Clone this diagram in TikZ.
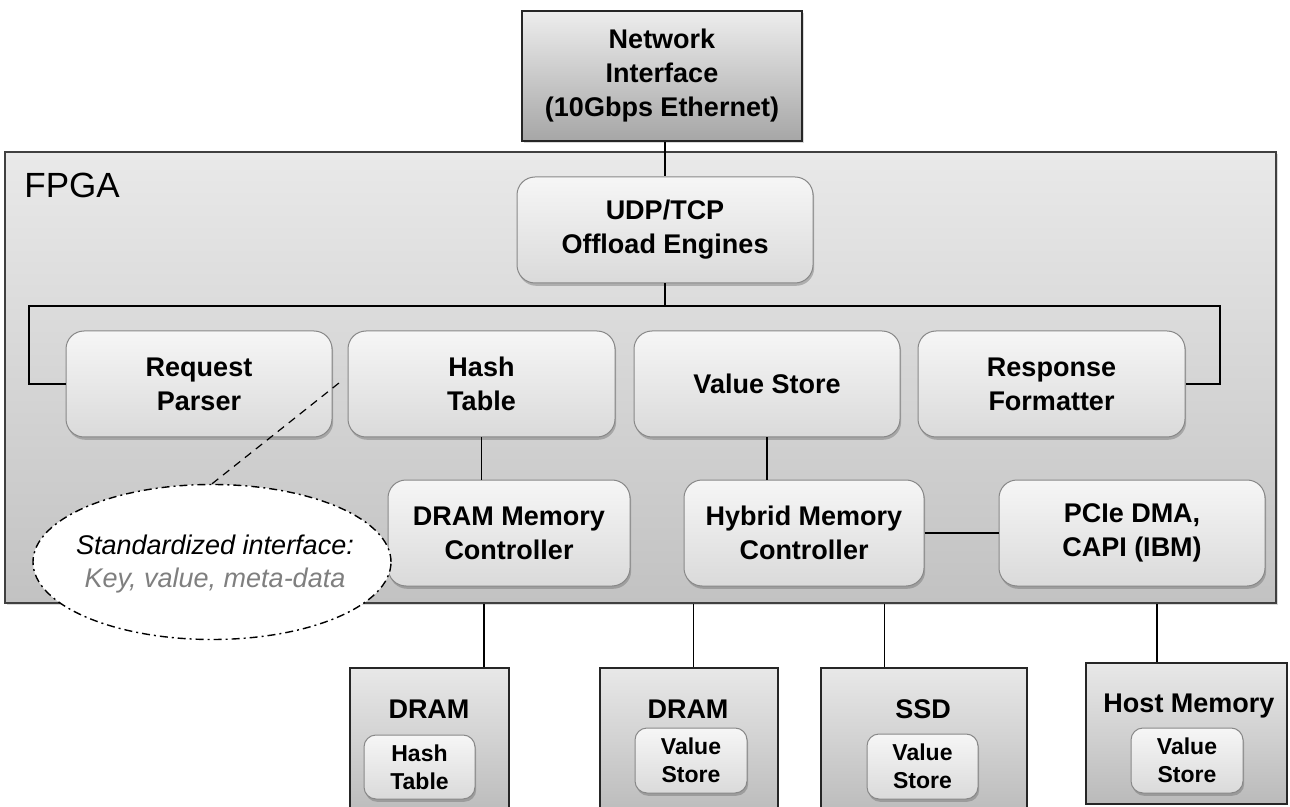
\documentclass[tikz,border=0pt]{standalone}
\usepackage{fontspec}
\setmainfont{Liberation Sans}
\usetikzlibrary{shapes.geometric,shadows}

\definecolor{fpgatop}{HTML}{E9E9E9}
\definecolor{fpgabot}{HTML}{C2C2C2}
\definecolor{nitop}{HTML}{EDEDED}
\definecolor{nibot}{HTML}{A6A6A6}
\definecolor{modtop}{HTML}{F6F6F6}
\definecolor{modbot}{HTML}{DADADA}
\definecolor{memtop}{HTML}{E8E8E8}
\definecolor{membot}{HTML}{BABABA}
\definecolor{modline}{HTML}{888888}
\definecolor{keygray}{HTML}{7F7F7F}

\begin{document}
\begin{tikzpicture}[x=0.5pt,y=-0.5pt,
  sz/.style 2 args={minimum width=#1*0.5pt, minimum height=#2*0.5pt},
  lbl/.style={font=\bfseries\fontsize{13.5}{17}\selectfont, align=center, inner sep=0pt},
  softshadow/.style={drop shadow={shadow xshift=0.6pt, shadow yshift=-1.4pt, opacity=0.4, fill=black!60}},
  module/.style={lbl, draw=modline, line width=0.5pt, rounded corners=9pt,
    top color=modtop, bottom color=modbot, softshadow},
  smallbox/.style={module, rounded corners=6pt,
    font=\bfseries\fontsize{11.5}{14}\selectfont},
  fpgabox/.style={draw=black!75, line width=1pt, top color=fpgatop, bottom color=fpgabot,
    drop shadow={shadow xshift=0.8pt, shadow yshift=-1pt, opacity=0.3}},
  nibox/.style={lbl, draw=black!85, line width=0.9pt, top color=nitop, bottom color=nibot,
    drop shadow={shadow xshift=0.8pt, shadow yshift=-1pt, opacity=0.3}},
  membox/.style={draw=black!85, line width=0.9pt, top color=memtop, bottom color=membot},
  conn/.style={draw=black, line width=0.9pt},
]
\clip (0,0) rectangle (1290,807);

% FPGA enclosure and network interface
\node[fpgabox, sz={1271}{451}] (fpga) at (640.5,377.5) {};
\node[anchor=base west, inner sep=0pt, font=\fontsize{17.5}{20}\selectfont] (fpgalbl) at (24,198) {FPGA};
\node[nibox, sz={280}{130}] (ni) at (662,76) {Network\\Interface\\(10Gbps Ethernet)};

% bus bend points
\coordinate (busL) at (29,306);
\coordinate (busR) at (1220,306);

% processing modules
\node[module, sz={296}{106}] (udp) at (665,230) {UDP/TCP\\Offload Engines};
\node[module, sz={266}{106}] (rp) at (199,384) {Request\\Parser};
\node[module, sz={267}{106}] (ht) at (481.5,384) {Hash\\Table};
\node[module, sz={266}{106}] (vs) at (767,384) {Value Store};
\node[module, sz={267}{106}] (rf) at (1051.5,384) {Response\\Formatter};
\node[module, sz={242}{106}] (dmc) at (509,533) {DRAM Memory\\Controller};
\node[module, sz={240}{106}] (hmc) at (804,533) {Hybrid Memory\\Controller};
\node[module, sz={266}{106}] (pcie) at (1132,533) {PCIe DMA,\\CAPI (IBM)};

% connectors inside the FPGA
\draw[conn] (udp.north |- ni.south) -- (udp.north);
\draw[conn] (udp.south) -- (udp.south |- busL);
\draw[conn] (rp.west) -- (rp.west -| busL) -- (busL) -- (busR) -- (busR |- rf.east) -- (rf.east);
\draw[conn, line width=0.6pt] (ht.south) -- (ht.south |- dmc.north);
\draw[conn, line width=0.6pt] (vs.south) -- (vs.south |- hmc.north);
\draw[conn] (hmc.east) -- (pcie.west);

% external memories
\node[membox, sz={159}{150}] (dram1) at (429.5,743) {};
\node[membox, sz={178}{150}] (dram2) at (689,743) {};
\node[membox, sz={206}{150}] (ssd) at (924,743) {};
\node[membox, sz={201}{141}] (host) at (1186.5,733.5) {};
\node[lbl, anchor=base] (dram1t) at (429,718) {DRAM};
\node[lbl, anchor=base] (dram2t) at (688,718) {DRAM};
\node[lbl, anchor=base] (ssdt) at (923,718) {SSD};
\node[lbl, anchor=base] (hostt) at (1189,712) {Host Memory};
\node[smallbox, sz={111}{64}] (htm) at (419.5,767) {Hash\\Table};
\node[smallbox, sz={112}{65}] (vsd) at (691,760.5) {Value\\Store};
\node[smallbox, sz={111}{65}] (vss) at (922.5,766.5) {Value\\Store};
\node[smallbox, sz={112}{65}] (vsh) at (1187,760.5) {Value\\Store};

% links from the controllers to the memories
\coordinate (tapA) at ([xshift=-12.5pt]dmc.south);
\coordinate (tapB) at ([xshift=5pt]hmc.south west);
\coordinate (tapC) at ([xshift=-20pt]hmc.south east);
\coordinate (tapD) at ([xshift=12.5pt]pcie.south);
\draw[conn] (tapA |- fpga.south) -- (tapA |- dram1.north);
\draw[conn] (tapB |- fpga.south) -- (tapB |- dram2.north);
\draw[conn] (tapC |- fpga.south) -- (tapC |- ssd.north);
\draw[conn] (tapD |- fpga.south) -- (tapD |- host.north);

% interface callout
\node[ellipse, draw=black, fill=white, line width=0.7pt,
  dash pattern=on 4pt off 2pt on 1pt off 2pt, sz={358}{155}, inner sep=0pt] (std) at (212,562) {};
\node[align=center, inner sep=0pt, font=\itshape\fontsize{13.5}{16.5}\selectfont] (stdt) at (215,564)
  {Standardized interface:\\\textcolor{keygray}{Key, value, meta-data}};
\coordinate (htpoint) at ([xshift=-3pt,yshift=1.5pt]ht.west);
\draw[line width=0.6pt, dash pattern=on 4pt off 3pt] (std.north) -- (htpoint);
\end{tikzpicture}
\end{document}
